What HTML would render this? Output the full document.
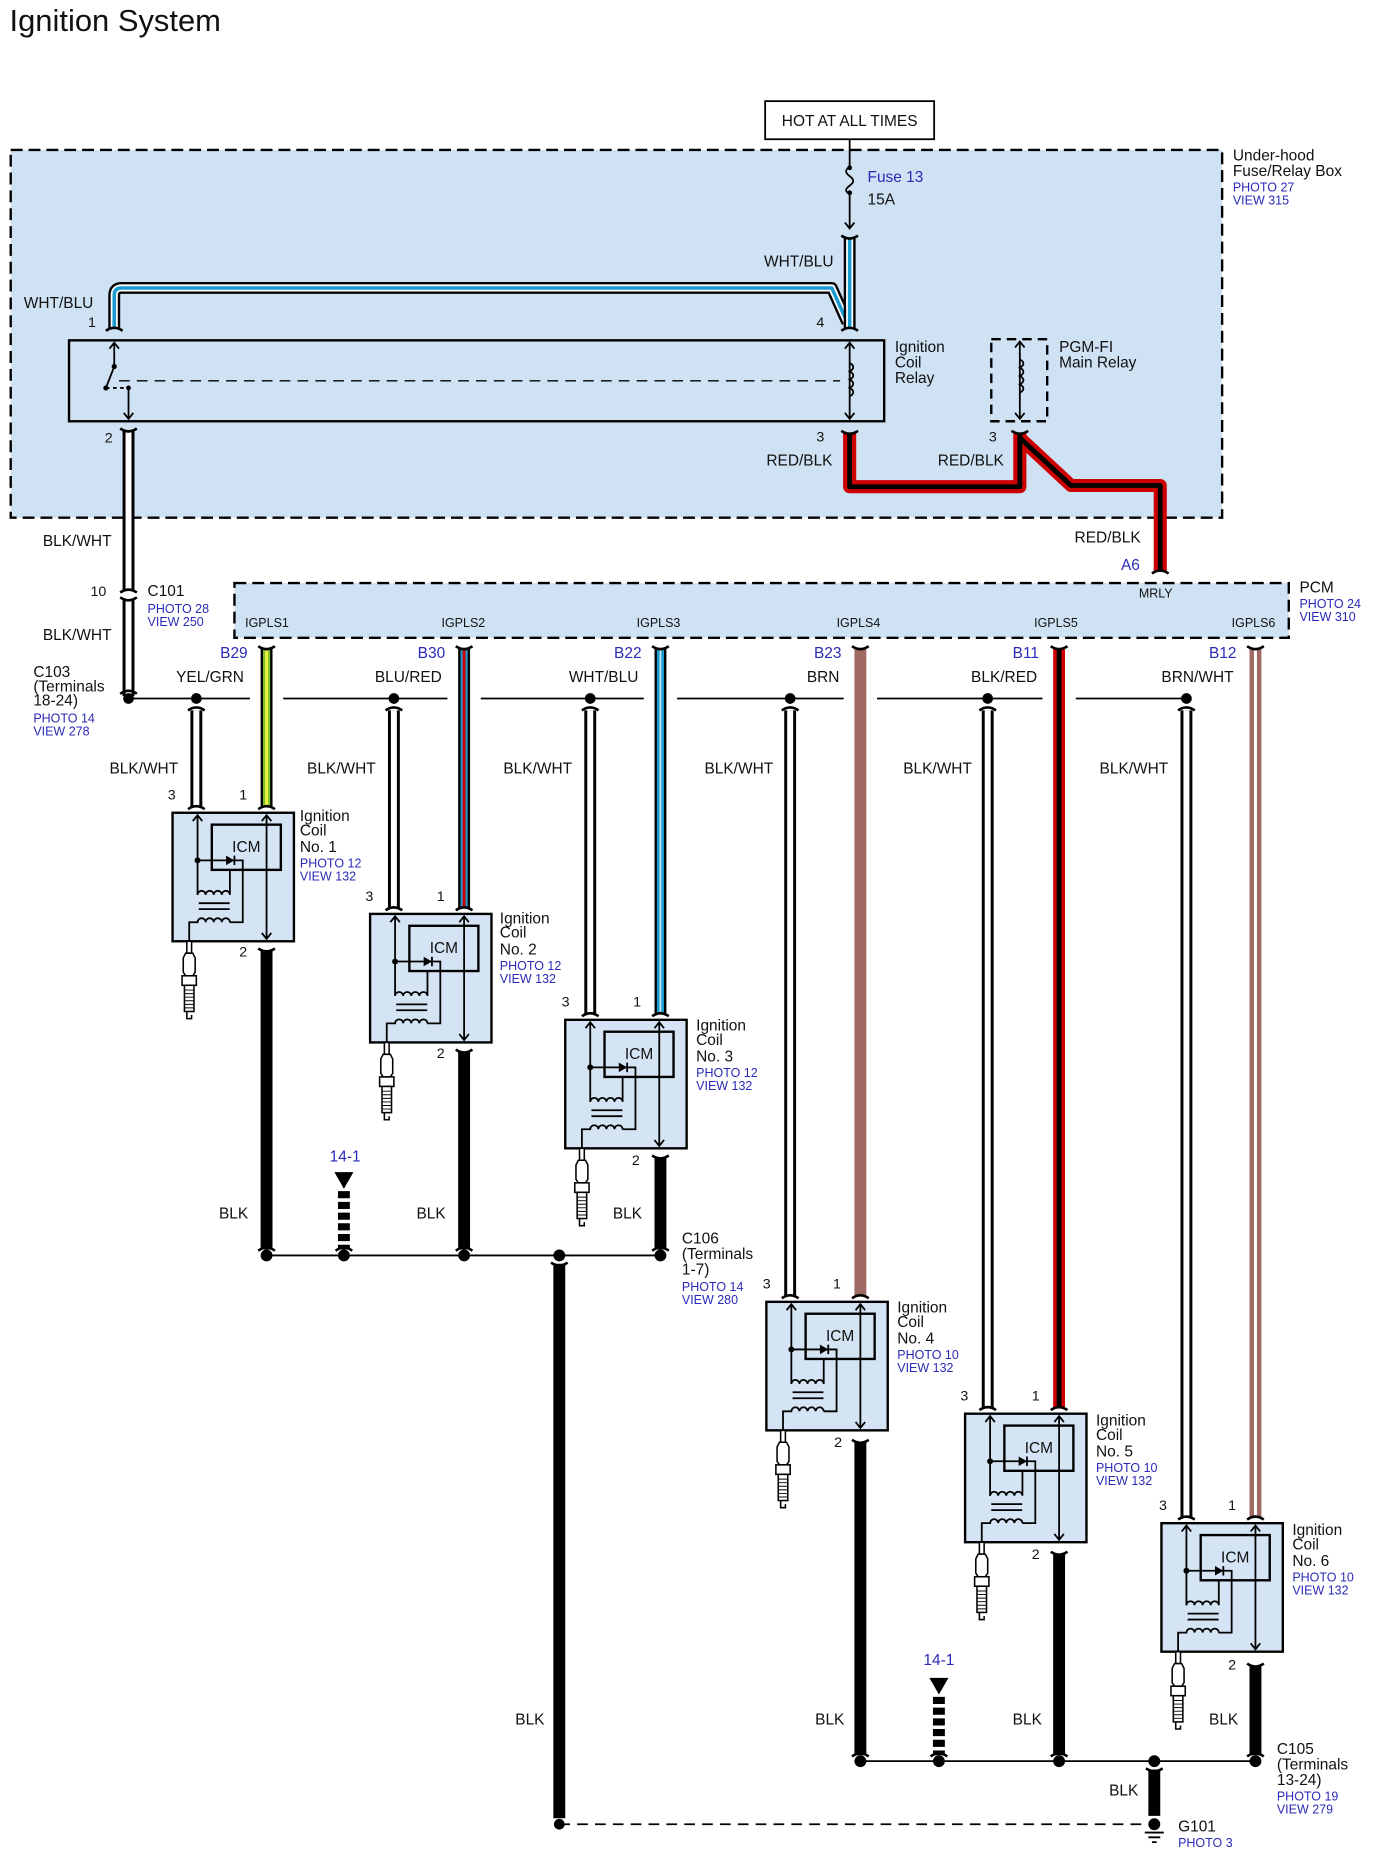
<!DOCTYPE html>
<html><head><meta charset="utf-8"><style>
html,body{margin:0;padding:0;background:#fff;}
svg{display:block;}
text{font-family:"Liberation Sans",Arial,sans-serif;fill:#111;}
.l{font-size:13px;}
.p{font-size:12px;}
.b{font-size:10.5px;fill:#2a2ab8;}
.bl{font-size:13px;fill:#2a2ab8;}
.s{font-size:10.5px;}
</style></head><body>
<svg width="1376" height="1871" viewBox="0 0 1156.3 1572.3" preserveAspectRatio="none" xmlns="http://www.w3.org/2000/svg">
<defs>
<g id="plug" fill="#fff" stroke="#000" stroke-width="1.3">
 <rect x="11" y="108" width="4" height="10"/>
 <path d="M10 118 h6 l2 4 v12 l-2 3 h-6 l-2 -3 v-12 z"/>
 <rect x="7" y="137" width="12" height="8"/>
 <rect x="9" y="145" width="8" height="22"/>
 <path d="M9 149h8M9 152h8M9 155h8M9 158h8M9 161h8M9 164h8" stroke-width="0.8"/>
 <path d="M11 167 v6 h4 v-3" fill="none"/>
</g>
<g id="coil">
 <rect x="0" y="0" width="102" height="108" fill="#d5e4f4" stroke="#000" stroke-width="2"/>
 <rect x="33" y="10" width="58" height="38" fill="#d5e4f4" stroke="#000" stroke-width="2"/>
 <text x="62" y="33" font-size="13" text-anchor="middle">ICM</text>
 <g fill="none" stroke="#000" stroke-width="1.5">
  <path d="M79 2 V106 M75 7 L79 2 L83 7 M75 101 L79 106 L83 101"/>
  <path d="M21 2 V69 M17 7 L21 2 L25 7"/>
  <path d="M21 40 H59 V92 H48"/>
  <path d="M21 69 a3.4 3.4 0 0 1 6.8 0 a3.4 3.4 0 0 1 6.8 0 a3.4 3.4 0 0 1 6.8 0 a3.4 3.4 0 0 1 6.8 0 V48"/>
  <path d="M22 76 H48 M22 81 H48"/>
  <path d="M14 108 V92 H21 a3.4 3.4 0 0 1 6.8 0 a3.4 3.4 0 0 1 6.8 0 a3.4 3.4 0 0 1 6.8 0 a3.4 3.4 0 0 1 6.8 0"/>
  <path d="M52 36 V44"/>
 </g>
 <polygon points="52,40 45,36 45,44" fill="#000"/>
 <circle cx="21" cy="40" r="2.5" fill="#000"/>
 <use href="#plug" x="1" y="0"/>
</g>
</defs>

<text x="8" y="26" font-size="26">Ignition System</text>

<!-- HOT box -->
<rect x="643" y="85" width="142" height="32" fill="#fff" stroke="#000" stroke-width="1.5"/>
<text x="714" y="106" class="l" text-anchor="middle">HOT AT ALL TIMES</text>

<!-- Under-hood box -->
<rect x="9" y="126" width="1018" height="309" fill="#cfe2f3" stroke="#000" stroke-width="2" stroke-dasharray="10,5"/>
<text x="1036" y="135" class="l">Under-hood</text>
<text x="1036" y="148" class="l">Fuse/Relay Box</text>
<text x="1036" y="161" class="b">PHOTO 27</text>
<text x="1036" y="172" class="b">VIEW 315</text>

<!-- fuse -->
<g fill="none" stroke="#000" stroke-width="1.5">
<path d="M714 117 V140 M714 163 V192 M710 187 L714 192 L718 187"/>
<path d="M714 140 c-4 3 -4 5 0 8 c4 3 4 5 0 8 c-4 3 -4 5 0 7"/>
</g>
<circle cx="714" cy="141" r="2" fill="#000"/><circle cx="714" cy="162" r="2" fill="#000"/>
<text x="729" y="153" class="bl">Fuse 13</text>
<text x="729" y="172" class="l">15A</text>

<!-- WHT/BLU wires -->
<g fill="none" stroke-linejoin="round">
<path d="M96 276 V248 q0 -6 6 -6 H699 L712 271" stroke="#000" stroke-width="10"/>
<path d="M96 276 V248 q0 -6 6 -6 H699 L712 271" stroke="#fff" stroke-width="6"/>
<path d="M96 276 V248 q0 -6 6 -6 H699 L712 271" stroke="#1c9bd0" stroke-width="3"/>
<path d="M714 200 V276" stroke="#000" stroke-width="10"/>
<path d="M714 200 V276" stroke="#fff" stroke-width="6"/>
<path d="M714 200 V276" stroke="#1c9bd0" stroke-width="3"/>
</g>
<text x="20" y="259" class="l">WHT/BLU</text>
<text x="642" y="224" class="l">WHT/BLU</text>
<text x="74" y="275" class="p">1</text>
<text x="686" y="275" class="p">4</text>

<!-- relay box -->
<rect x="58" y="286" width="685" height="68" fill="#cfe2f3" stroke="#000" stroke-width="2"/>
<path d="M100 320 H706" stroke="#000" stroke-width="1.2" stroke-dasharray="9,6"/>
<g fill="none" stroke="#000" stroke-width="1.5">
<path d="M714 288 V352 M710 293 L714 288 L718 293 M710 347 L714 352 L718 347"/>
<path d="M714 305 c4 2 4 5 0 7 c4 2 4 5 0 7 c4 2 4 5 0 7 c4 2 4 5 0 7"/>
<path d="M96 288 V308 M92 293 L96 288 L100 293"/>
<path d="M96 308 L89 326"/>
<path d="M89 326 H108" stroke-dasharray="3,3"/>
<path d="M108 326 V352 M104 347 L108 352 L112 347"/>
</g>
<circle cx="96" cy="308" r="2.2"/><circle cx="89" cy="326" r="2.2"/><circle cx="108" cy="326" r="2"/>
<text x="752" y="296" class="l">Ignition</text>
<text x="752" y="309" class="l">Coil</text>
<text x="752" y="322" class="l">Relay</text>

<!-- PGM-FI -->
<rect x="833" y="285" width="47" height="69" fill="none" stroke="#000" stroke-width="2" stroke-dasharray="8,5"/>
<g fill="none" stroke="#000" stroke-width="1.5">
<path d="M857 287 V352 M853 292 L857 287 L861 292 M853 347 L857 352 L861 347"/>
<path d="M857 302 c4 2 4 5 0 7 c4 2 4 5 0 7 c4 2 4 5 0 7 c4 2 4 5 0 7"/>
</g>
<text x="890" y="296" class="l">PGM-FI</text>
<text x="890" y="309" class="l">Main Relay</text>

<!-- RED/BLK wires -->
<g fill="none" stroke-linejoin="round">
<path d="M714 364 V409 H857 V364 M857 368 L900 408 H975 V480" stroke="#c00" stroke-width="11"/>
<path d="M714 364 V409 H857 V364 M857 368 L900 408 H975 V480" stroke="#000" stroke-width="4"/>
</g>
<text x="686" y="371" class="p">3</text>
<text x="831" y="371" class="p">3</text>
<text x="644" y="391" class="l">RED/BLK</text>
<text x="788" y="391" class="l">RED/BLK</text>
<text x="903" y="456" class="l">RED/BLK</text>
<text x="942" y="479" class="bl">A6</text>

<!-- BLK/WHT from relay pin 2 -->
<g fill="none">
<path d="M108 362 V496 M108 503 V585" stroke="#000" stroke-width="10"/>
<path d="M108 362 V496 M108 503 V585" stroke="#fff" stroke-width="5"/>
</g>
<text x="88" y="372" class="p">2</text>
<text x="36" y="459" class="l">BLK/WHT</text>
<text x="36" y="538" class="l">BLK/WHT</text>
<text x="76" y="501" class="p">10</text>
<text x="124" y="501" class="l">C101</text>
<text x="124" y="515" class="b">PHOTO 28</text>
<text x="124" y="526" class="b">VIEW 250</text>
<text x="28" y="569" class="l">C103</text>
<text x="28" y="581" class="l">(Terminals</text>
<text x="28" y="593" class="l">18-24)</text>
<text x="28" y="607" class="b">PHOTO 14</text>
<text x="28" y="618" class="b">VIEW 278</text>

<!-- PCM -->
<rect x="197" y="490" width="886" height="46" fill="#cfe2f3" stroke="#000" stroke-width="2" stroke-dasharray="10,5"/>
<text x="957" y="502" class="s">MRLY</text>
<text x="206" y="527" class="s">IGPLS1</text>
<text x="371" y="527" class="s">IGPLS2</text>
<text x="535" y="527" class="s">IGPLS3</text>
<text x="703" y="527" class="s">IGPLS4</text>
<text x="869" y="527" class="s">IGPLS5</text>
<text x="1035" y="527" class="s">IGPLS6</text>
<text x="1092" y="498" class="l">PCM</text>
<text x="1092" y="511" class="b">PHOTO 24</text>
<text x="1092" y="522" class="b">VIEW 310</text>

<!-- horizontal bus y=587 -->
<g stroke="#000" stroke-width="1.5">
<path d="M108 587 H210 M238 587 H376 M404 587 H541 M569 587 H709 M737 587 H876 M904 587 H997"/>
</g>
<g fill="#000">
<circle cx="108" cy="587" r="4.5"/><circle cx="165" cy="587" r="4.5"/><circle cx="331" cy="587" r="4.5"/>
<circle cx="496" cy="587" r="4.5"/><circle cx="664" cy="587" r="4.5"/><circle cx="830" cy="587" r="4.5"/><circle cx="997" cy="587" r="4.5"/>
</g>
<text x="148" y="573" class="l">YEL/GRN</text>
<text x="315" y="573" class="l">BLU/RED</text>
<text x="478" y="573" class="l">WHT/BLU</text>
<text x="678" y="573" class="l">BRN</text>
<text x="816" y="573" class="l">BLK/RED</text>
<text x="976" y="573" class="l">BRN/WHT</text>
<text x="185" y="553" class="bl">B29</text>
<text x="351" y="553" class="bl">B30</text>
<text x="516" y="553" class="bl">B22</text>
<text x="684" y="553" class="bl">B23</text>
<text x="851" y="553" class="bl">B11</text>
<text x="1016" y="553" class="bl">B12</text>

<!-- BLK/WHT verticals to pin 3 -->
<g fill="none">
<path d="M165 597 V678 M331 597 V763 M496 597 V852 M664 597 V1089 M830 597 V1183 M997 597 V1275" stroke="#000" stroke-width="10"/>
<path d="M165 597 V678 M331 597 V763 M496 597 V852 M664 597 V1089 M830 597 V1183 M997 597 V1275" stroke="#fff" stroke-width="5"/>
</g>
<text x="92" y="650" class="l">BLK/WHT</text>
<text x="258" y="650" class="l">BLK/WHT</text>
<text x="423" y="650" class="l">BLK/WHT</text>
<text x="592" y="650" class="l">BLK/WHT</text>
<text x="759" y="650" class="l">BLK/WHT</text>
<text x="924" y="650" class="l">BLK/WHT</text>

<!-- colored PCM wires -->
<g fill="none">
<path d="M224 545 V678" stroke="#000" stroke-width="10"/><path d="M224 545 V678" stroke="#7cc230" stroke-width="6"/><path d="M224 545 V678" stroke="#eef03a" stroke-width="2.5"/>
<path d="M390 545 V763" stroke="#000" stroke-width="10"/><path d="M390 545 V763" stroke="#1c9bd0" stroke-width="6"/><path d="M390 545 V763" stroke="#c00" stroke-width="2.5"/>
<path d="M555 545 V852" stroke="#000" stroke-width="10"/><path d="M555 545 V852" stroke="#1c9bd0" stroke-width="6"/><path d="M555 545 V852" stroke="#bfe6f5" stroke-width="1.5"/>
<path d="M723 545 V1089" stroke="#9f6a62" stroke-width="10"/>
<path d="M890 545 V1183" stroke="#c00" stroke-width="10"/><path d="M890 545 V1183" stroke="#000" stroke-width="4"/>
<path d="M1055 545 V1275" stroke="#9f6a62" stroke-width="10"/><path d="M1055 545 V1275" stroke="#fff" stroke-width="2.5"/>
</g>

<!-- coils -->
<use href="#coil" x="145" y="683"/>
<use href="#coil" x="311" y="768"/>
<use href="#coil" x="475" y="857"/>
<use href="#coil" x="644" y="1094"/>
<use href="#coil" x="811" y="1188"/>
<use href="#coil" x="976" y="1280"/>

<text x="141" y="672" class="p">3</text><text x="201" y="672" class="p">1</text>
<text x="307" y="757" class="p">3</text><text x="367" y="757" class="p">1</text>
<text x="472" y="846" class="p">3</text><text x="532" y="846" class="p">1</text>
<text x="641" y="1083" class="p">3</text><text x="700" y="1083" class="p">1</text>
<text x="807" y="1177" class="p">3</text><text x="867" y="1177" class="p">1</text>
<text x="974" y="1269" class="p">3</text><text x="1032" y="1269" class="p">1</text>

<text x="201" y="804" class="p">2</text>
<text x="367" y="889" class="p">2</text>
<text x="531" y="979" class="p">2</text>
<text x="701" y="1216" class="p">2</text>
<text x="867" y="1310" class="p">2</text>
<text x="1032" y="1403" class="p">2</text>

<g>
<text x="252" y="690" class="l">Ignition</text><text x="252" y="702" class="l">Coil</text><text x="252" y="716" class="l">No. 1</text><text x="252" y="729" class="b">PHOTO 12</text><text x="252" y="740" class="b">VIEW 132</text>
<text x="420" y="776" class="l">Ignition</text><text x="420" y="788" class="l">Coil</text><text x="420" y="802" class="l">No. 2</text><text x="420" y="815" class="b">PHOTO 12</text><text x="420" y="826" class="b">VIEW 132</text>
<text x="585" y="866" class="l">Ignition</text><text x="585" y="878" class="l">Coil</text><text x="585" y="892" class="l">No. 3</text><text x="585" y="905" class="b">PHOTO 12</text><text x="585" y="916" class="b">VIEW 132</text>
<text x="754" y="1103" class="l">Ignition</text><text x="754" y="1115" class="l">Coil</text><text x="754" y="1129" class="l">No. 4</text><text x="754" y="1142" class="b">PHOTO 10</text><text x="754" y="1153" class="b">VIEW 132</text>
<text x="921" y="1198" class="l">Ignition</text><text x="921" y="1210" class="l">Coil</text><text x="921" y="1224" class="l">No. 5</text><text x="921" y="1237" class="b">PHOTO 10</text><text x="921" y="1248" class="b">VIEW 132</text>
<text x="1086" y="1290" class="l">Ignition</text><text x="1086" y="1302" class="l">Coil</text><text x="1086" y="1316" class="l">No. 6</text><text x="1086" y="1329" class="b">PHOTO 10</text><text x="1086" y="1340" class="b">VIEW 132</text>
</g>

<!-- BLK grounds bus 1 -->
<g stroke="#000" fill="none">
<path d="M224 799 V1050 M390 884 V1050 M555 973 V1050 M470 1062 V1528" stroke-width="10"/>
<path d="M224 1055 H555" stroke-width="1.5"/>
<path d="M289 1001 V1050" stroke-width="10" stroke-dasharray="6,3"/>
<path d="M470 1533 H965" stroke-width="1.5" stroke-dasharray="9,6"/>
</g>
<polygon points="281,985 297,985 289,999" fill="#000"/>
<g fill="#000">
<circle cx="224" cy="1055" r="5"/><circle cx="289" cy="1055" r="5"/><circle cx="390" cy="1055" r="5"/><circle cx="470" cy="1055" r="5"/><circle cx="555" cy="1055" r="5"/>
<circle cx="470" cy="1533" r="4.5"/>
</g>
<text x="277" y="976" class="bl">14-1</text>
<text x="184" y="1024" class="l">BLK</text>
<text x="350" y="1024" class="l">BLK</text>
<text x="515" y="1024" class="l">BLK</text>
<text x="433" y="1449" class="l">BLK</text>
<text x="573" y="1045" class="l">C106</text>
<text x="573" y="1058" class="l">(Terminals</text>
<text x="573" y="1071" class="l">1-7)</text>
<text x="573" y="1085" class="b">PHOTO 14</text>
<text x="573" y="1096" class="b">VIEW 280</text>

<!-- bus 2 -->
<g stroke="#000" fill="none">
<path d="M723 1212 V1475 M890 1306 V1475 M1055 1400 V1475 M970 1487 V1526" stroke-width="10"/>
<path d="M723 1480 H1055" stroke-width="1.5"/>
<path d="M789 1426 V1475" stroke-width="10" stroke-dasharray="6,3"/>
</g>
<polygon points="781,1410 797,1410 789,1424" fill="#000"/>
<g fill="#000">
<circle cx="723" cy="1480" r="5"/><circle cx="789" cy="1480" r="5"/><circle cx="890" cy="1480" r="5"/><circle cx="970" cy="1480" r="5"/><circle cx="1055" cy="1480" r="5"/>
<circle cx="970" cy="1533" r="5"/>
</g>
<path d="M962 1540 H978 M965 1544 H975 M968 1548 H972" stroke="#000" stroke-width="1.5"/>
<text x="776" y="1399" class="bl">14-1</text>
<text x="685" y="1449" class="l">BLK</text>
<text x="851" y="1449" class="l">BLK</text>
<text x="1016" y="1449" class="l">BLK</text>
<text x="932" y="1509" class="l">BLK</text>
<text x="1073" y="1474" class="l">C105</text>
<text x="1073" y="1487" class="l">(Terminals</text>
<text x="1073" y="1500" class="l">13-24)</text>
<text x="1073" y="1513" class="b">PHOTO 19</text>
<text x="1073" y="1524" class="b">VIEW 279</text>
<text x="990" y="1539" class="l">G101</text>
<text x="990" y="1552" class="b">PHOTO 3</text>

<!-- connector cups -->
<g fill="none" stroke="#000" stroke-width="2.2">
<path d="M89 278 q7 -5 14 0 M707 278 q7 -5 14 0 M707 198 q7 5 14 0 M707 362 q7 5 14 0 M850 362 q7 5 14 0 M968 482 q7 -5 14 0 M101 360 q7 5 14 0 M101 498 q7 -5 14 0 M101 502 q7 5 14 0 M101 583 q7 -5 14 0"/>
<path d="M217 543 q7 5 14 0 M383 543 q7 5 14 0 M548 543 q7 5 14 0 M716 543 q7 5 14 0 M883 543 q7 5 14 0 M1048 543 q7 5 14 0"/>
<path d="M158 597 q7 -5 14 0 M324 597 q7 -5 14 0 M489 597 q7 -5 14 0 M657 597 q7 -5 14 0 M823 597 q7 -5 14 0 M990 597 q7 -5 14 0"/>
<path d="M158 680 q7 -5 14 0 M217 680 q7 -5 14 0 M324 765 q7 -5 14 0 M383 765 q7 -5 14 0 M489 854 q7 -5 14 0 M548 854 q7 -5 14 0 M657 1091 q7 -5 14 0 M716 1091 q7 -5 14 0 M823 1185 q7 -5 14 0 M883 1185 q7 -5 14 0 M990 1277 q7 -5 14 0 M1048 1277 q7 -5 14 0"/>
<path d="M217 797 q7 5 14 0 M383 882 q7 5 14 0 M548 971 q7 5 14 0 M716 1210 q7 5 14 0 M883 1304 q7 5 14 0 M1048 1398 q7 5 14 0"/>
<path d="M217 1051 q7 -5 14 0 M282 1051 q7 -5 14 0 M383 1051 q7 -5 14 0 M548 1051 q7 -5 14 0 M463 1061 q7 5 14 0 M716 1476 q7 -5 14 0 M782 1476 q7 -5 14 0 M883 1476 q7 -5 14 0 M1048 1476 q7 -5 14 0 M963 1486 q7 5 14 0"/>
</g>
</svg>
</body></html>
